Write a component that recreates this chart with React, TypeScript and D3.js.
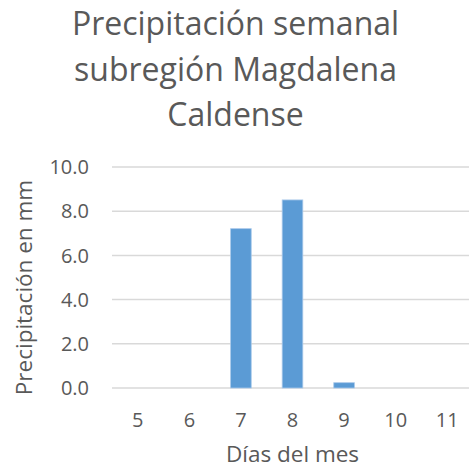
import React from "react";
import * as d3 from "d3";

const titleLines = ["Precipitación semanal", "subregión Magdalena", "Caldense"];
const days = ["5", "6", "7", "8", "9", "10", "11"];
const precip = [0, 0, 7.21, 8.51, 0.24, 0, 0];
const yTicks = [0, 2, 4, 6, 8, 10];
const yLabel = "Precipitación en mm";
const xLabel = "Días del mes";

const W = 469;
const H = 469;
const FONT = "'Open Sans', sans-serif";
const TEXT = "#595959";

export default function App() {
  const left = 112;
  const right = 473;
  const top = 167;
  const bottom = 388;

  const x = d3.scaleBand<string>().domain(days).range([left, right]).paddingInner(0.6).paddingOuter(0.3);
  const y = d3.scaleLinear().domain([0, 10]).range([bottom, top]);
  const cx = (d: string) => (x(d) as number) + x.bandwidth() / 2;

  return (
    <svg width={W} height={H} style={{ position: "absolute", left: 0, top: 0, background: "#fff" }} fontFamily={FONT}>
      <rect width={W} height={H} fill="#fff" />
      {titleLines.map((t, i) => (
        <text key={t} x={235.5} y={35 + i * 45.5} textAnchor="middle" fontSize={32} fill={TEXT}>
          {t}
        </text>
      ))}
      {yTicks.map((t) => (
        <g key={t}>
          <line x1={left} x2={W} y1={y(t)} y2={y(t)} stroke="#d9d9d9" strokeWidth={1.5} />
          <text x={89} y={y(t)} dy="0.36em" textAnchor="end" fontSize={20} fill={TEXT}>
            {t.toFixed(1)}
          </text>
        </g>
      ))}
      {days.map((d, i) =>
        precip[i] > 0 ? (
          <rect
            key={d}
            x={x(d)}
            y={y(precip[i])}
            width={x.bandwidth()}
            height={y(0) - y(precip[i])}
            fill="#5b9bd5"
            stroke="#a9c9ea"
            strokeWidth={0.8}
          />
        ) : null
      )}
      {days.map((d) => (
        <text key={d} x={cx(d)} y={427} textAnchor="middle" fontSize={20} fill={TEXT}>
          {d}
        </text>
      ))}
      <text x={(left + right) / 2} y={462} textAnchor="middle" fontSize={22.5} fill={TEXT}>
        {xLabel}
      </text>
      <text
        transform={`translate(32, ${287.5}) rotate(-90)`}
        textAnchor="middle"
        fontSize={22.5}
        fill={TEXT}
      >
        {yLabel}
      </text>
    </svg>
  );
}
